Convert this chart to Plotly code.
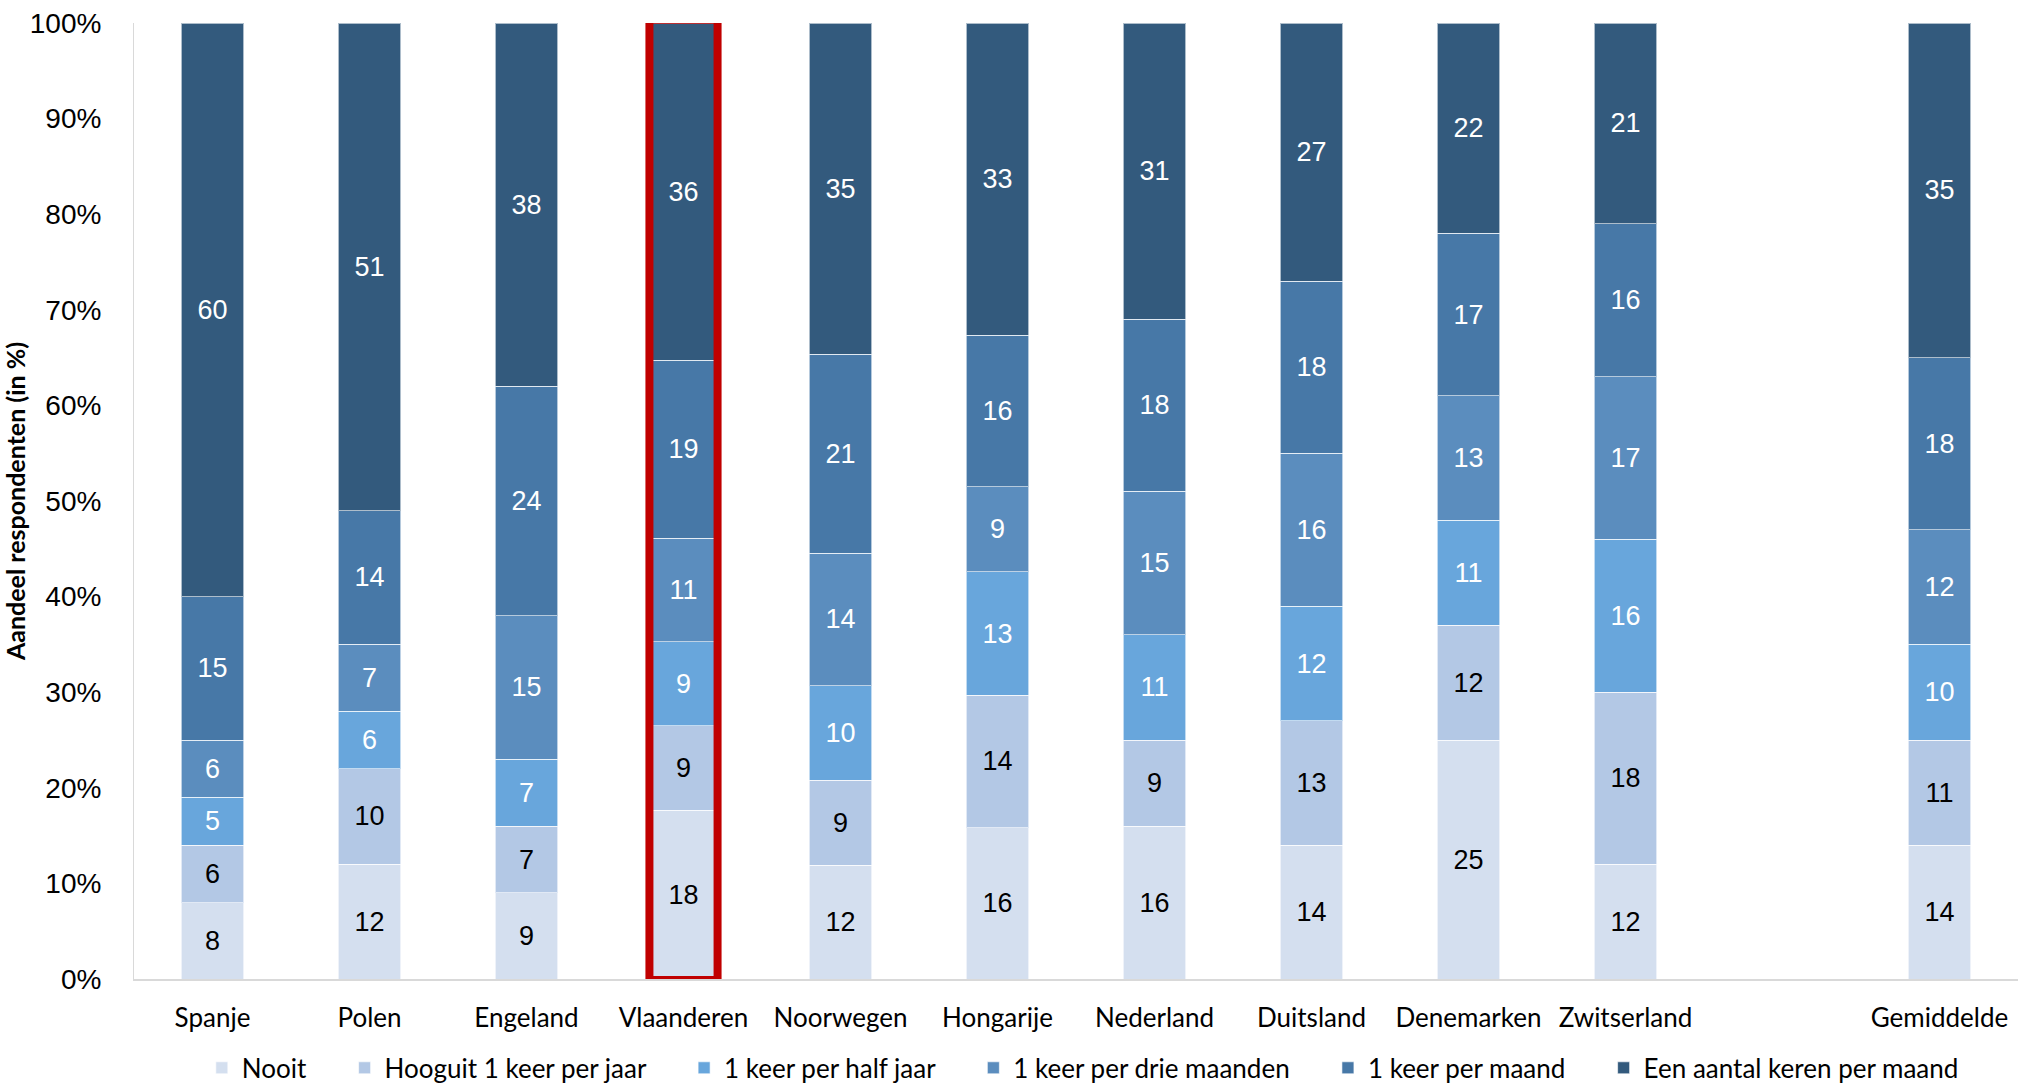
import plotly.graph_objects as go

# Categories (empty slot separates the countries from the average)
categories = ["Spanje", "Polen", "Engeland", "Vlaanderen", "Noorwegen", "Hongarije",
              "Nederland", "Duitsland", "Denemarken", "Zwitserland", " ", "Gemiddelde"]

series_names = ["Nooit", "Hooguit 1 keer per jaar", "1 keer per half jaar",
                "1 keer per drie maanden", "1 keer per maand", "Een aantal keren per maand"]

nooit        = [8, 12, 9, 18, 12, 16, 16, 14, 25, 12, None, 14]
hooguit_jaar = [6, 10, 7, 9, 9, 14, 9, 13, 12, 18, None, 11]
half_jaar    = [5, 6, 7, 9, 10, 13, 11, 12, 11, 16, None, 10]
drie_maanden = [6, 7, 15, 11, 14, 9, 15, 16, 13, 17, None, 12]
per_maand    = [15, 14, 24, 19, 21, 16, 18, 18, 17, 16, None, 18]
aantal_keren = [60, 51, 38, 36, 35, 33, 31, 27, 22, 21, None, 35]

y_ticks = [0, 10, 20, 30, 40, 50, 60, 70, 80, 90, 100]
y_tick_labels = [f"{t}%" for t in y_ticks]

highlight = "Vlaanderen"

colors = ["#D4DFEF", "#B3C8E5", "#68A6DC", "#5B8DBE", "#4778A7", "#335A7D"]
text_colors = ["#000000", "#000000", "#FFFFFF", "#FFFFFF", "#FFFFFF", "#FFFFFF"]
all_series = [nooit, hooguit_jaar, half_jaar, drie_maanden, per_maand, aantal_keren]

NBSP = "\u00a0"

fig = go.Figure()
for i, (name, vals, col, tcol) in enumerate(zip(series_names, all_series, colors, text_colors)):
    # extra spacing after each legend entry except the last
    legend_label = name + (NBSP * 5 if i < len(series_names) - 1 else "")
    fig.add_trace(go.Bar(
        x=categories, y=vals, name=legend_label,
        marker=dict(color=col, line=dict(color="rgba(255,255,255,0.6)", width=1)),
        text=[("" if v is None else str(v)) for v in vals],
        textposition="inside", insidetextanchor="middle",
        textfont=dict(family="Liberation Sans, Arial", size=27, color=tcol),
        texttemplate="%{text}", hoverinfo="skip",
    ))

# Red frame around the highlighted bar
hi = categories.index(highlight)
fig.add_shape(type="rect", xref="x", yref="y",
              x0=hi - 0.217, x1=hi + 0.217, y0=-0.1, y1=100.35,
              line=dict(color="#C00000", width=8), layer="above")

fig.update_layout(
    width=2018, height=1084,
    barmode="stack", barnorm="percent", bargap=0.6,
    plot_bgcolor="white", paper_bgcolor="white",
    margin=dict(l=134, r=0, t=23, b=105, autoexpand=False),
    uniformtext=dict(minsize=10, mode="show"),
    showlegend=True,
    legend=dict(orientation="h", x=0.036, xanchor="left", y=-0.093, yanchor="middle",
                font=dict(family="Lato, Carlito, Calibri", size=26, color="#000000"),
                traceorder="normal", itemwidth=30),
    xaxis=dict(type="category", categoryorder="array", categoryarray=categories,
               showline=True, linecolor="#D9D9D9", linewidth=2,
               ticks="", tickfont=dict(family="Lato, Carlito, Calibri", size=26, color="#000000"),
               ticklabelstandoff=15, range=[-0.5, len(categories) - 0.5]),
    yaxis=dict(range=[0, 100], tickvals=y_ticks, ticktext=y_tick_labels,
               showgrid=False, zeroline=False,
               showline=True, linecolor="#D9D9D9", linewidth=1,
               tickfont=dict(family="Liberation Sans, Arial", size=28, color="#000000"),
               ticks="", ticklabelstandoff=26,
               title=dict(text="<b>Aandeel respondenten (in %)</b>", standoff=2,
                          font=dict(family="Lato, Carlito, Calibri", size=25, color="#000000"))),
)

fig.write_html("out.html")
